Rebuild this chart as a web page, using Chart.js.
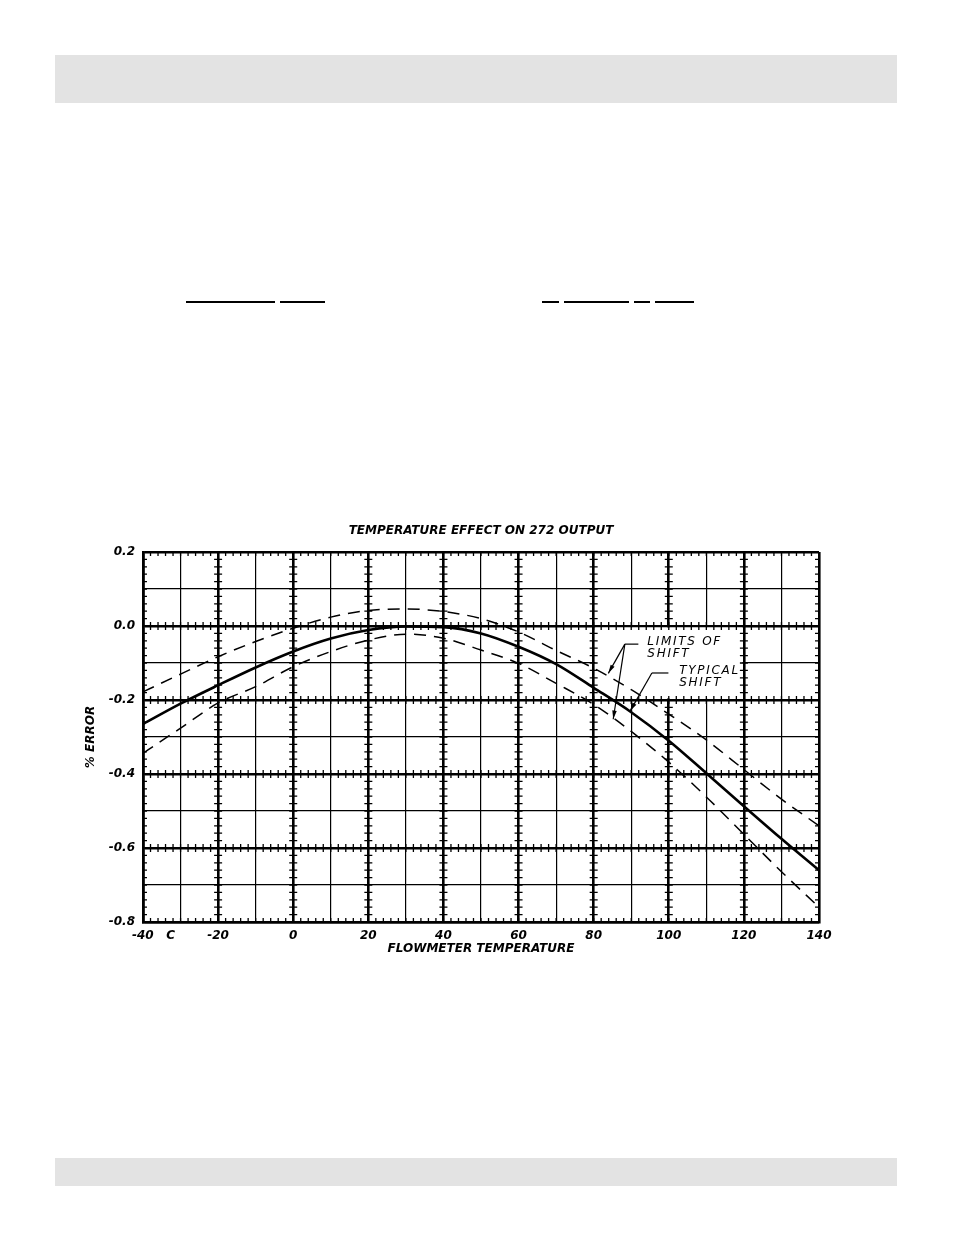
<!DOCTYPE html>
<html>
<head>
<meta charset="utf-8">
<script src="https://cdn.jsdelivr.net/npm/chart.js@4.4.1/dist/chart.umd.min.js"></script>
<style>
  body { margin: 0; background: #fff; width: 954px; height: 1235px; position: relative; overflow: hidden; }
  .bar { position: absolute; left: 55px; width: 842px; background: #e3e3e3; }
  .rule { position: absolute; top: 301px; height: 2px; background: #000; }
  #chart { position: absolute; left: 60px; top: 505px; }
</style>
</head>
<body>
<div class="bar" style="top:55px;height:48px"></div>
<div class="bar" style="top:1158px;height:28px"></div>
<div class="rule" style="left:186px;width:89px"></div>
<div class="rule" style="left:280px;width:45px"></div>
<div class="rule" style="left:542px;width:17px"></div>
<div class="rule" style="left:564px;width:65px"></div>
<div class="rule" style="left:634px;width:16px"></div>
<div class="rule" style="left:655px;width:39px"></div>
<canvas id="chart" width="800" height="460"></canvas>
<script>
// temperature (deg C) and % error
const temps = [-40, -30, -20, -10, 0, 10, 20, 30, 40, 50, 60, 70, 80, 90, 100, 110, 120, 130, 140];
const typicalShift = [-0.265, -0.210, -0.160, -0.112, -0.069, -0.034, -0.011, -0.001, -0.003, -0.020, -0.056, -0.103, -0.167, -0.233, -0.310, -0.398, -0.487, -0.575, -0.660];
const upperLimit = [-0.178, -0.130, -0.083, -0.042, -0.006, 0.024, 0.042, 0.046, 0.039, 0.020, -0.016, -0.066, -0.114, -0.172, -0.238, -0.308, -0.388, -0.468, -0.540];
const lowerLimit = [-0.344, -0.276, -0.208, -0.164, -0.110, -0.069, -0.038, -0.022, -0.033, -0.065, -0.101, -0.155, -0.212, -0.285, -0.368, -0.462, -0.563, -0.664, -0.760];
const xTickLabels = { '-40': '     -40   C', '-20': '-20', '0': '0', '20': '20', '40': '40', '60': '60', '80': '80', '100': '100', '120': '120', '140': '140' };

const FONT = 'DejaVu Sans';
const pts = arr => temps.map((t, i) => ({ x: t, y: arr[i] }));

// callouts, in data units
const callouts = [
  { text: ['LIMITS OF', 'SHIFT'], at: [94.3, -0.043], leader: [[91.9, -0.049], [88.3, -0.049]], heads: [[83.9, -0.128], [85.2, -0.252]] },
  { text: ['TYPICAL', 'SHIFT'], at: [102.8, -0.122], leader: [[99.9, -0.127], [95.5, -0.127]], heads: [[89.7, -0.230]] }
];
// blank panel behind the callouts: x from/to, y from/to
const panel = [80, 120, 0, -0.2];

const paperGrid = {
  id: 'paperGrid',
  beforeDatasetsDraw(chart) {
    const { ctx, scales: { x, y } } = chart;
    ctx.save();
    ctx.fillStyle = '#fff';
    const l = x.getPixelForValue(panel[0]) + 1.5, r = x.getPixelForValue(panel[1]) - 1.5;
    const t = y.getPixelForValue(panel[2]) + 1.5, b = y.getPixelForValue(panel[3]) - 1.5;
    ctx.fillRect(l, t, r - l, b - t);
    // small ticks along the heavy lines
    ctx.strokeStyle = '#000';
    ctx.lineWidth = 1.3;
    ctx.beginPath();
    for (let xv = -40; xv <= 140; xv += 20) {
      const px = x.getPixelForValue(xv);
      const left = xv === -40 ? 0 : 4, right = xv === 140 ? 0 : 4;
      const hidden = xv > panel[0] && xv < panel[1];
      for (let k = 0; k <= 50; k++) {
        const yv = -0.8 + k * 0.02;
        if (hidden && yv > panel[3] + 0.001 && yv < panel[2] - 0.001) continue;
        const py = y.getPixelForValue(yv);
        ctx.moveTo(px - left, py);
        ctx.lineTo(px + right, py);
      }
    }
    for (let yv = -8; yv <= 2; yv += 2) {
      const py = y.getPixelForValue(yv / 10);
      const up = yv === 2 ? 0 : 4, down = yv === -8 ? 0 : 4;
      for (let k = 0; k <= 90; k++) {
        const px = x.getPixelForValue(-40 + k * 2);
        ctx.moveTo(px, py - up);
        ctx.lineTo(px, py + down);
      }
    }
    ctx.stroke();
    ctx.restore();
  },
  afterDraw(chart) {
    const { ctx, scales: { x, y }, chartArea: a } = chart;
    ctx.save();
    // title, centred on the plot
    ctx.fillStyle = '#000';
    ctx.font = `italic bold 12px "${FONT}"`;
    ctx.textAlign = 'center';
    ctx.textBaseline = 'middle';
    ctx.fillText('TEMPERATURE EFFECT ON 272 OUTPUT', (a.left + a.right) / 2, a.top - 21);
    // callouts
    ctx.font = `italic 12px "${FONT}"`;
    ctx.letterSpacing = '1.7px';
    ctx.textAlign = 'left';
    ctx.strokeStyle = '#000';
    ctx.lineWidth = 1.2;
    callouts.forEach(c => {
      const tx = x.getPixelForValue(c.at[0]);
      c.text.forEach((s, i) => ctx.fillText(s, tx, y.getPixelForValue(c.at[1]) + i * 11.5));
      const p0 = [x.getPixelForValue(c.leader[0][0]), y.getPixelForValue(c.leader[0][1])];
      const p1 = [x.getPixelForValue(c.leader[1][0]), y.getPixelForValue(c.leader[1][1])];
      ctx.beginPath();
      ctx.moveTo(p0[0], p0[1]);
      ctx.lineTo(p1[0], p1[1]);
      ctx.stroke();
      c.heads.forEach(h => {
        const hx = x.getPixelForValue(h[0]), hy = y.getPixelForValue(h[1]);
        ctx.beginPath();
        ctx.moveTo(p1[0], p1[1]);
        ctx.lineTo(hx, hy);
        ctx.stroke();
        const ang = Math.atan2(hy - p1[1], hx - p1[0]);
        ctx.beginPath();
        ctx.moveTo(hx, hy);
        ctx.lineTo(hx - 9 * Math.cos(ang - 0.25), hy - 9 * Math.sin(ang - 0.25));
        ctx.lineTo(hx - 9 * Math.cos(ang + 0.25), hy - 9 * Math.sin(ang + 0.25));
        ctx.closePath();
        ctx.fill();
      });
    });
    ctx.restore();
  }
};

const axisFont = { family: FONT, size: 12, weight: 'bold', style: 'italic' };

new Chart(document.querySelector('#chart').getContext('2d'), {
  type: 'line',
  data: {
    datasets: [{
      label: 'Typical shift',
      data: pts(typicalShift),
      borderColor: '#000',
      borderWidth: 2.6,
      pointRadius: 0,
      cubicInterpolationMode: 'monotone'
    }, {
      label: 'Upper limit',
      data: pts(upperLimit),
      borderColor: '#000',
      borderWidth: 1.5,
      borderDash: [12, 8],
      pointRadius: 0,
      cubicInterpolationMode: 'monotone'
    }, {
      label: 'Lower limit',
      data: pts(lowerLimit),
      borderColor: '#000',
      borderWidth: 1.5,
      borderDash: [12, 8],
      pointRadius: 0,
      cubicInterpolationMode: 'monotone'
    }]
  },
  options: {
    responsive: false,
    animation: false,
    layout: { padding: { top: 47, right: 41, left: 0, bottom: 0 } },
    plugins: { legend: { display: false }, tooltip: { enabled: false } },
    scales: {
      x: {
        type: 'linear', min: -40, max: 140,
        afterFit: s => { s.height = 43; },
        border: { display: true, color: '#000', width: 2.6 },
        grid: {
          color: '#000', drawTicks: false,
          lineWidth: c => (c.tick.value % 20 === 0 ? 2.6 : 1.2)
        },
        ticks: {
          stepSize: 10, padding: 7, color: '#000', font: axisFont, maxRotation: 0, autoSkip: false,
          callback: v => xTickLabels[String(v)] || ''
        },
        title: { display: true, text: 'FLOWMETER TEMPERATURE', color: '#000', font: axisFont, padding: { top: 0, bottom: 9 } }
      },
      y: {
        type: 'linear', min: -0.8, max: 0.2,
        afterFit: s => { s.width = 83; },
        border: { display: true, color: '#000', width: 2.6 },
        grid: {
          color: '#000', drawTicks: false,
          lineWidth: c => (Math.round(c.tick.value * 10) % 2 === 0 ? 2.6 : 1.2)
        },
        ticks: {
          stepSize: 0.1, padding: 8, color: '#000', font: axisFont, autoSkip: false,
          callback: v => { const n = Math.round(v * 10); return n % 2 === 0 ? (n / 10).toFixed(1) : ''; }
        },
        title: { display: true, text: '% ERROR', color: '#000', font: axisFont, padding: { top: 24, bottom: 0 } }
      }
    }
  },
  plugins: [paperGrid]
});
</script>
</body>
</html>
